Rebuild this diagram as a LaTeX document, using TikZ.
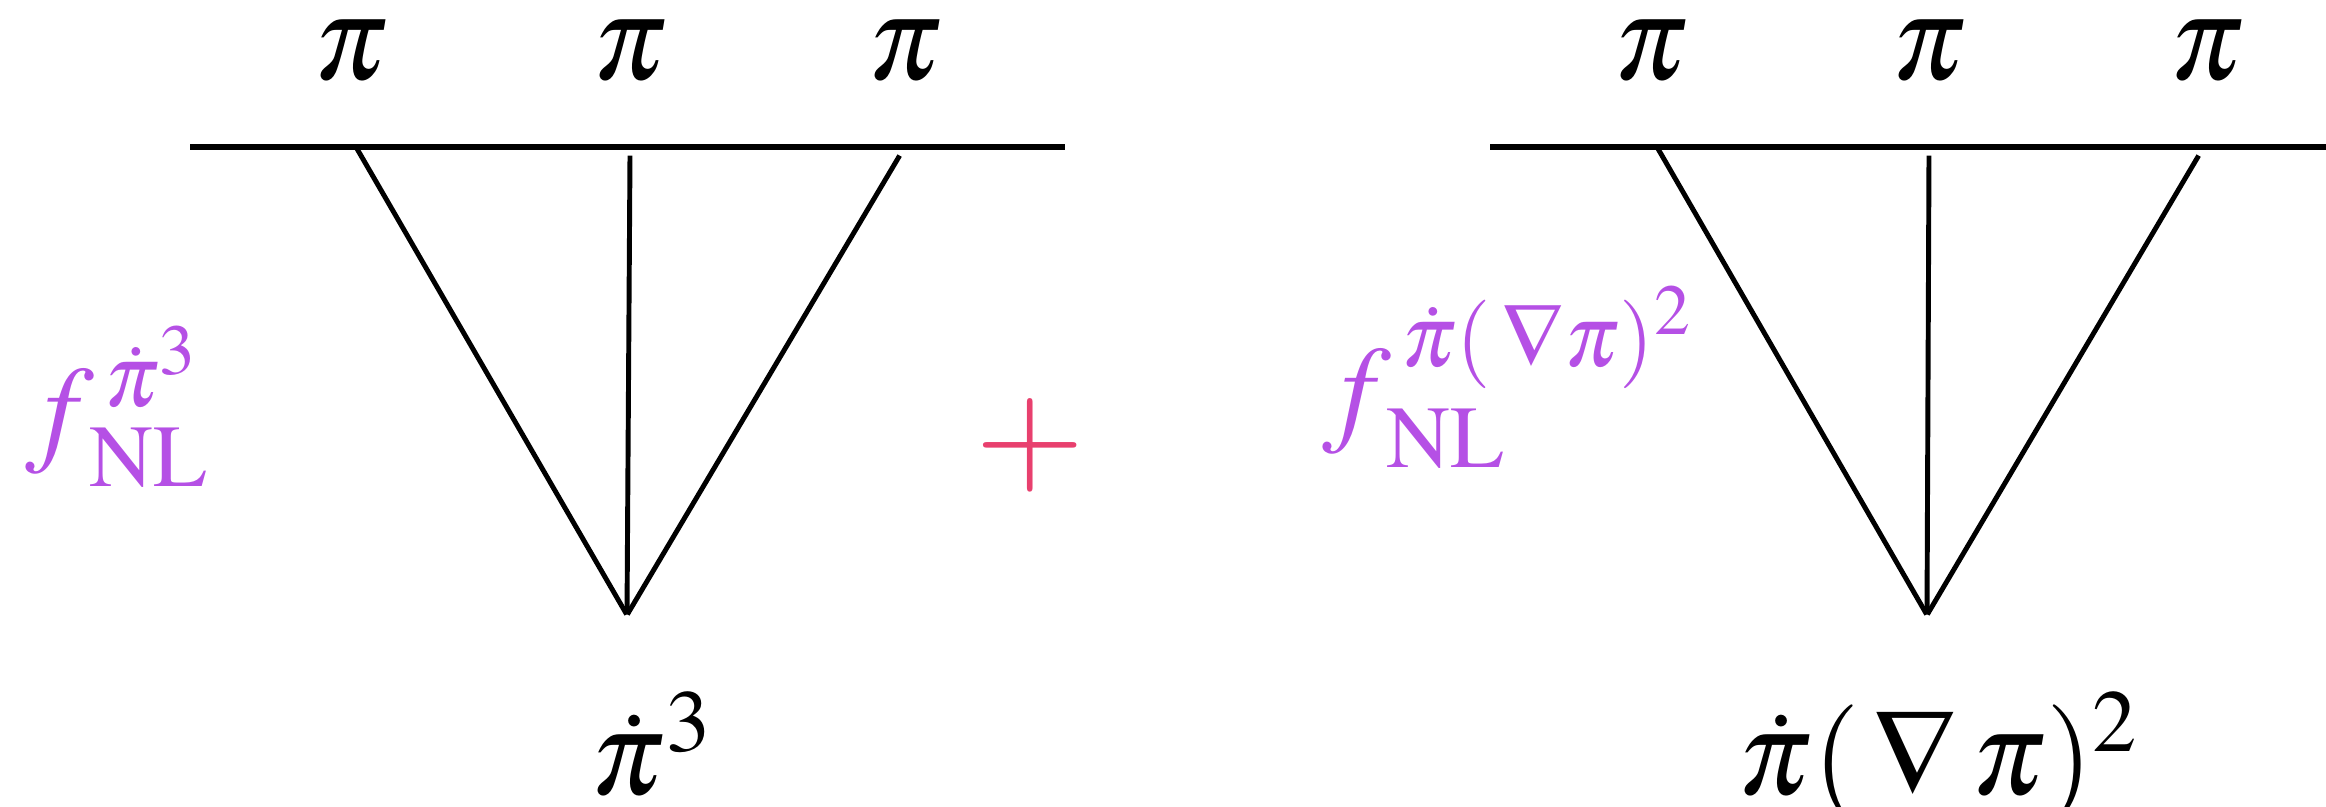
\documentclass[tikz,border=0pt]{standalone}
\usepackage{mathptmx}
\usetikzlibrary{calc}
\definecolor{nlpurple}{RGB}{181,80,229}
\definecolor{plusred}{RGB}{232,64,110}
\tikzstyle{vx}=[shape=circle, minimum size=0, inner sep=0]
\tikzstyle{leg}=[line width=1.4pt]
\tikzstyle{bar}=[line width=1.7pt]
\tikzstyle{lbl}=[font=\fontsize{34}{40}\selectfont, inner sep=0]
\tikzstyle{nl}=[lbl, text=nlpurple]

\begin{document}
\begin{tikzpicture}[x=0.01cm,y=-0.01cm]
\useasboundingbox (0,0) rectangle (2326,807);
% left diagram
\coordinate (a) at (190,147);
\coordinate (b) at (1065,147);
\node at (356,147)[vx](1){};
\node at (630,155)[vx](2){};
\node at (900,155)[vx](3){};
\node at (627,615)[vx](0){};
\draw[bar] (a)--(b);
\draw[leg] (1)--(0)--(3);
\draw[leg] (2)--(0);
\node at (351,80)[lbl, anchor=base](p1){$\pi$};
\node at (630,80)[lbl, anchor=base](p2){$\pi$};
\node at (905,80)[lbl, anchor=base](p3){$\pi$};
\node at (590,795)[lbl, anchor=base west](v0){$\dot{\pi}^3$};
\node at (25,450)[nl, anchor=base west](f0){$f_{\,\mathrm{NL}}^{\,\dot{\pi}^3}$};
% plus
\node at (1030,445)[lbl, font=\fontsize{40}{48}\selectfont, text=plusred](plus){$+$};
% right diagram
\coordinate (c) at (1490,147);
\coordinate (d) at (2326,147);
\node at (1657,147)[vx](5){};
\node at (1929,155)[vx](6){};
\node at (2199,155)[vx](7){};
\node at (1927,615)[vx](4){};
\draw[bar] (c)--(d);
\draw[leg] (5)--(4)--(7);
\draw[leg] (6)--(4);
\node at (1651,80)[lbl, anchor=base](p5){$\pi$};
\node at (1929,80)[lbl, anchor=base](p6){$\pi$};
\node at (2207,80)[lbl, anchor=base](p7){$\pi$};
\node at (1737,795)[lbl, anchor=base west](v4){$\dot{\pi}(\,\nabla\mkern2mu\pi)^2$};
\node at (1322,430)[nl, anchor=base west](f4){$f_{\,\mathrm{NL}}^{\,\dot{\pi}(\,\nabla\pi)^2}$};
\end{tikzpicture}
\end{document}
